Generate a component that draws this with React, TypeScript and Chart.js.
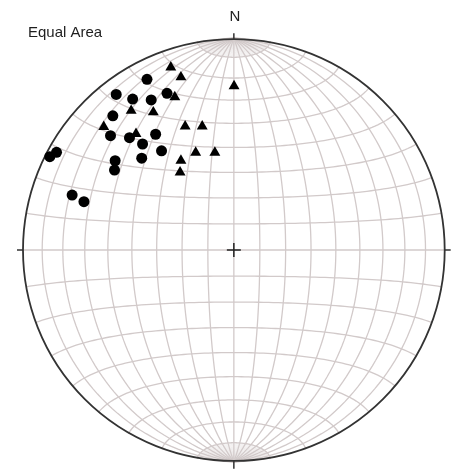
import React, { useEffect, useRef } from "react";
import { Chart, registerables } from "chart.js";

Chart.register(...registerables);

// Poles plotted on the lower-hemisphere equal-area (Schmidt) net, in net units (primitive radius = 1)
const CIRCLE_X = [-0.412, -0.558, -0.480, -0.392, -0.317, -0.574, -0.585, -0.495, -0.371, -0.433, -0.343, -0.437, -0.563, -0.566, -0.841, -0.873, -0.767, -0.711];
const CIRCLE_Y = [0.805, 0.734, 0.712, 0.708, 0.739, 0.633, 0.539, 0.530, 0.546, 0.500, 0.468, 0.433, 0.421, 0.377, 0.461, 0.440, 0.259, 0.228];

const TRIANGLE_X = [-0.299, -0.251, 0.001, -0.280, -0.487, -0.382, -0.617, -0.464, -0.231, -0.150, -0.181, -0.090, -0.251, -0.255];
const TRIANGLE_Y = [0.862, 0.815, 0.773, 0.721, 0.657, 0.650, 0.581, 0.548, 0.583, 0.583, 0.460, 0.460, 0.422, 0.366];

const NORTH_LABEL = "N";
const NET_TITLE = "Equal Area";
const GRID_STEP_DEG = 10;
const POLE_STEP_DEG = 2;

const DEG = Math.PI / 180;

// Lambert equal-area projection of a lower-hemisphere direction (east, north, down)
function project(e: number, n: number, d: number): [number, number] {
  const k = 1 / Math.sqrt(1 + d);
  return [e * k, n * k];
}

function meridian(dipDeg: number, t0: number, t1: number): [number, number][] {
  const pts: [number, number][] = [];
  const steps = 90;
  for (let i = 0; i <= steps; i++) {
    const t = (t0 + ((t1 - t0) * i) / steps) * DEG;
    const dl = dipDeg * DEG;
    pts.push(project(Math.sin(t) * Math.cos(dl), Math.cos(t), Math.sin(t) * Math.sin(dl)));
  }
  return pts;
}

function smallCircle(alphaDeg: number): [number, number][] {
  const pts: [number, number][] = [];
  const steps = 90;
  const a = alphaDeg * DEG;
  for (let i = 0; i <= steps; i++) {
    const p = (180 * i / steps) * DEG;
    pts.push(project(Math.sin(a) * Math.cos(p), Math.cos(a), Math.sin(a) * Math.sin(p)));
  }
  return pts;
}

const netPlugin = {
  id: "schmidtNet",
  beforeDatasetsDraw(chart: any) {
    const ctx = chart.ctx as CanvasRenderingContext2D;
    const xs = chart.scales.x;
    const ys = chart.scales.y;
    const px = (v: number) => xs.getPixelForValue(v);
    const py = (v: number) => ys.getPixelForValue(v);
    const cx = px(0);
    const cy = py(0);
    const r = px(1) - cx;

    const stroke = (pts: [number, number][]) => {
      ctx.beginPath();
      pts.forEach(([x, y], i) => {
        if (i === 0) ctx.moveTo(px(x), py(y));
        else ctx.lineTo(px(x), py(y));
      });
      ctx.stroke();
    };

    ctx.save();
    // fine meridians near the poles
    ctx.strokeStyle = "#e6e1e1";
    ctx.lineWidth = 0.6;
    for (let dip = POLE_STEP_DEG; dip < 180; dip += POLE_STEP_DEG) {
      if (dip % GRID_STEP_DEG === 0) continue;
      stroke(meridian(dip, 0, GRID_STEP_DEG));
      stroke(meridian(dip, 180 - GRID_STEP_DEG, 180));
    }
    // main 10 degree grid
    ctx.strokeStyle = "#d2caca";
    ctx.lineWidth = 1.3;
    for (let dip = GRID_STEP_DEG; dip < 180; dip += GRID_STEP_DEG) {
      stroke(meridian(dip, 0, 180));
    }
    for (let a = GRID_STEP_DEG; a < 180; a += GRID_STEP_DEG) {
      stroke(smallCircle(a));
    }

    // primitive circle
    ctx.strokeStyle = "#333333";
    ctx.lineWidth = 1.8;
    ctx.beginPath();
    ctx.arc(cx, cy, r, 0, Math.PI * 2);
    ctx.stroke();

    // ticks at N, E, S, W
    ctx.lineWidth = 1.5;
    ctx.beginPath();
    ctx.moveTo(cx, cy - r);
    ctx.lineTo(cx, cy - r - 6);
    ctx.moveTo(cx, cy + r);
    ctx.lineTo(cx, cy + r + 8);
    ctx.moveTo(cx - r, cy);
    ctx.lineTo(cx - r - 6, cy);
    ctx.moveTo(cx + r, cy);
    ctx.lineTo(cx + r + 6, cy);
    ctx.stroke();

    // centre cross
    ctx.strokeStyle = "#222222";
    ctx.lineWidth = 1.5;
    ctx.beginPath();
    ctx.moveTo(cx - 7, cy);
    ctx.lineTo(cx + 7, cy);
    ctx.moveTo(cx, cy - 7);
    ctx.lineTo(cx, cy + 7);
    ctx.stroke();

    // labels
    ctx.fillStyle = "#1e1e1e";
    ctx.font = "15px 'Liberation Sans', Arial, sans-serif";
    ctx.textAlign = "center";
    ctx.textBaseline = "alphabetic";
    ctx.fillText(NORTH_LABEL, cx + 1, cy - r - 18);
    ctx.textAlign = "left";
    ctx.fillText(NET_TITLE, 28, 37);
    ctx.restore();
  },
};

export default function App() {
  const canvasRef = useRef<HTMLCanvasElement | null>(null);

  useEffect(() => {
    if (!canvasRef.current) return;
    const chart = new Chart(canvasRef.current, {
      type: "scatter",
      data: {
        datasets: [
          {
            label: "Circles",
            data: CIRCLE_X.map((x, i) => ({ x, y: CIRCLE_Y[i] })),
            pointStyle: "circle",
            pointRadius: 5.5,
            backgroundColor: "#000000",
            borderColor: "#000000",
            borderWidth: 0,
            clip: false,
          },
          {
            label: "Triangles",
            data: TRIANGLE_X.map((x, i) => ({ x, y: TRIANGLE_Y[i] })),
            pointStyle: "triangle",
            pointRadius: 6.3,
            backgroundColor: "#000000",
            borderColor: "#000000",
            borderWidth: 0,
            clip: false,
          },
        ],
      },
      options: {
        animation: false,
        responsive: false,
        maintainAspectRatio: false,
        layout: { padding: { left: 23, right: 4, top: 38, bottom: 13 } },
        scales: {
          x: { type: "linear", min: -1, max: 1, display: false },
          y: { type: "linear", min: -1, max: 1, display: false },
        },
        plugins: {
          legend: { display: false },
          tooltip: { enabled: false },
          title: { display: false },
        },
      },
      plugins: [netPlugin],
    });
    return () => chart.destroy();
  }, []);

  return (
    <div style={{ position: "fixed", left: 0, top: 0, width: 451, height: 475, background: "#ffffff" }}>
      <canvas ref={canvasRef} width={451} height={475} style={{ display: "block" }} />
    </div>
  );
}
